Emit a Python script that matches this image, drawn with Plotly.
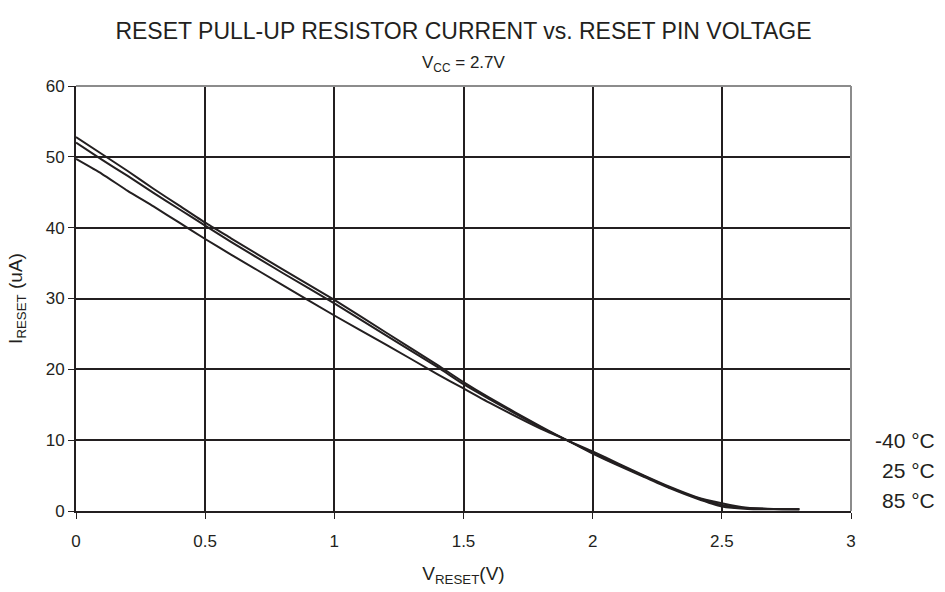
import plotly.graph_objects as go

# Reset pin voltage (V) sample points
v_reset = [0.0, 0.1, 0.2, 0.3, 0.4, 0.5, 0.6, 0.8, 1.0, 1.2, 1.4, 1.5, 1.6, 1.8, 1.9,
           2.0, 2.1, 2.2, 2.3, 2.4, 2.5, 2.6, 2.7, 2.8]

# Pull-up current (uA) per temperature
i_m40 = [52.8, 50.4, 48.0, 45.5, 43.1, 40.7, 38.5, 34.1, 29.8, 25.2, 20.6, 18.2, 16.0,
         11.9, 10.0, 8.4, 6.7, 5.0, 3.4, 2.0, 1.1, 0.45, 0.3, 0.25]
i_25 = [52.0, 49.6, 47.3, 44.9, 42.6, 40.3, 38.0, 33.6, 29.3, 24.8, 20.3, 17.9, 15.8,
        11.8, 10.0, 8.2, 6.5, 4.9, 3.3, 1.9, 0.85, 0.4, 0.28, 0.25]
i_85 = [49.7, 47.6, 45.2, 43.0, 40.7, 38.4, 36.2, 31.9, 27.6, 23.5, 19.3, 17.3, 15.3,
        11.6, 10.0, 8.1, 6.4, 4.8, 3.2, 1.8, 0.65, 0.3, 0.25, 0.25]

temp_labels = ["-40 °C", "25 °C", "85 °C"]

x_ticks = [0, 0.5, 1, 1.5, 2, 2.5, 3]
x_tick_text = ["0", "0.5", "1", "1.5", "2", "2.5", "3"]
y_ticks = [0, 10, 20, 30, 40, 50, 60]

FONT = "Liberation Sans, Arial, sans-serif"
INK = "#231f20"
FRAME = "#8c8c8c"

fig = go.Figure()
for name, ys in zip(temp_labels, [i_m40, i_25, i_85]):
    fig.add_trace(go.Scatter(x=v_reset, y=ys, mode="lines", name=name,
                             line=dict(color=INK, width=2, shape="spline", smoothing=0.5),
                             showlegend=False))

# Temperature labels stacked to the right of the plot area
label_offsets = [-71, -41, -11]  # pixels above the x axis
for lab, dy in zip(temp_labels, label_offsets):
    fig.add_annotation(x=1.0, xref="paper", xanchor="right", xshift=86,
                       y=0, yref="paper", yanchor="middle", yshift=-dy,
                       text=lab, showarrow=False,
                       font=dict(family=FONT, size=21, color=INK))

# Subtitle with supply voltage
fig.add_annotation(x=0.5, xref="paper", y=1, yref="paper", yanchor="middle", yshift=22,
                   text="V<sub>CC</sub> = 2.7V", showarrow=False,
                   font=dict(family=FONT, size=17, color=INK))

# Grey frame on the top and right edges
fig.add_shape(type="line", xref="paper", yref="paper", x0=0, x1=1, y0=1, y1=1,
              line=dict(color=FRAME, width=2), layer="above")
fig.add_shape(type="line", xref="paper", yref="paper", x0=1, x1=1, y0=0, y1=1,
              line=dict(color=FRAME, width=2), layer="above")

fig.update_layout(
    width=945, height=592,
    margin=dict(l=76, r=94, t=86, b=81),
    paper_bgcolor="white", plot_bgcolor="white",
    font=dict(family=FONT, color=INK, size=17),
    title=dict(text="RESET PULL-UP RESISTOR CURRENT vs. RESET PIN VOLTAGE",
               x=0.5, xref="paper", xanchor="center",
               y=1 - 31 / 592, yref="container", yanchor="middle",
               font=dict(family=FONT, size=23, color=INK)),
    xaxis=dict(range=[0, 3], tickvals=x_ticks, ticktext=x_tick_text,
               automargin=False,
               showgrid=True, gridcolor=INK, gridwidth=2,
               showline=True, linecolor=INK, linewidth=2, mirror=False,
               ticks="outside", ticklen=6, tickcolor=INK, tickwidth=1,
               ticklabelstandoff=8,
               zeroline=False,
               title=dict(text="V<sub>RESET</sub>(V)", standoff=16,
                          font=dict(family=FONT, size=19, color=INK)),
               tickfont=dict(family=FONT, size=17, color=INK)),
    yaxis=dict(range=[0, 60], tickvals=y_ticks,
               automargin=False,
               showgrid=True, gridcolor=INK, gridwidth=2,
               showline=True, linecolor=INK, linewidth=2, mirror=False,
               ticks="outside", ticklen=6, tickcolor=INK, tickwidth=1,
               zeroline=False,
               title=dict(text="I<sub>RESET</sub> (uA)", standoff=18,
                          font=dict(family=FONT, size=19, color=INK)),
               tickfont=dict(family=FONT, size=17, color=INK)),
)

fig.write_html("out.html")
